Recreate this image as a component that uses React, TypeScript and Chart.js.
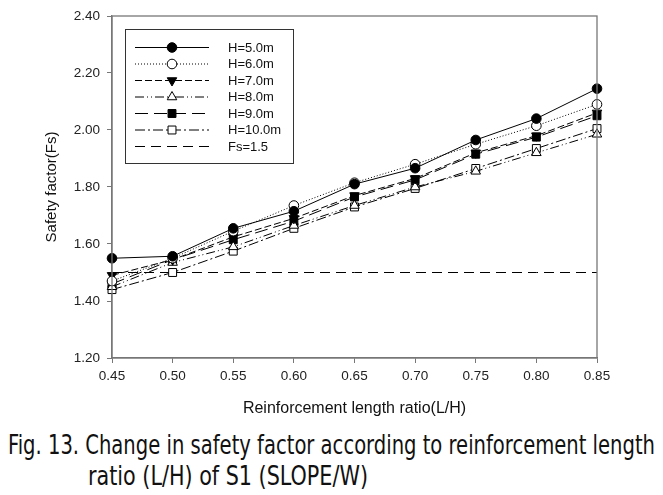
import React, { useEffect, useRef } from "react";
import { Chart, registerables } from "chart.js";

Chart.register(...registerables);

const xLabels = ["0.45", "0.50", "0.55", "0.60", "0.65", "0.70", "0.75", "0.80", "0.85"];
const h50 = [1.55, 1.557, 1.655, 1.715, 1.81, 1.866, 1.965, 2.04, 2.145];
const h60 = [1.47, 1.55, 1.645, 1.735, 1.815, 1.88, 1.95, 2.015, 2.09];
const h70 = [1.49, 1.545, 1.625, 1.69, 1.77, 1.83, 1.92, 1.98, 2.06];
const h80 = [1.45, 1.535, 1.59, 1.665, 1.735, 1.8, 1.855, 1.92, 1.985];
const h90 = [1.46, 1.545, 1.615, 1.68, 1.765, 1.825, 1.915, 1.975, 2.05];
const h100 = [1.44, 1.5, 1.575, 1.655, 1.73, 1.795, 1.865, 1.935, 2.005];
const fsLine = [1.5, 1.5, 1.5, 1.5, 1.5, 1.5, 1.5, 1.5, 1.5];
const seriesLabels = ["H=5.0m", "H=6.0m", "H=7.0m", "H=8.0m", "H=9.0m", "H=10.0m", "Fs=1.5"];
const yTicks = [1.2, 1.4, 1.6, 1.8, 2.0, 2.2, 2.4];
const xTitle = "Reinforcement length ratio(L/H)";
const yTitle = "Safety factor(Fs)";
const caption1 = "Fig. 13. Change in safety factor according to reinforcement length";
const caption2 = "ratio (L/H) of S1 (SLOPE/W)";

const FONT = "'Liberation Sans', Arial, Helvetica, sans-serif";
const CAPTION_FONT = "'Liberation Sans Narrow', 'DejaVu Sans Condensed', 'Liberation Sans', sans-serif";

function drawMarker(ctx: CanvasRenderingContext2D, style: string, rot: number, r: number, x: number, y: number, fill: string) {
  if (!style || r <= 0) return;
  ctx.save();
  ctx.setLineDash([]);
  ctx.lineWidth = 1;
  ctx.strokeStyle = "#000";
  ctx.fillStyle = fill;
  ctx.beginPath();
  if (style === "circle") {
    ctx.arc(x, y, r, 0, Math.PI * 2);
  } else if (style === "triangle") {
    let rad = (rot * Math.PI) / 180;
    ctx.moveTo(x + Math.sin(rad) * r, y - Math.cos(rad) * r);
    rad += (2 * Math.PI) / 3;
    ctx.lineTo(x + Math.sin(rad) * r, y - Math.cos(rad) * r);
    rad += (2 * Math.PI) / 3;
    ctx.lineTo(x + Math.sin(rad) * r, y - Math.cos(rad) * r);
    ctx.closePath();
  } else if (style === "rect") {
    const s = Math.SQRT1_2 * r;
    ctx.rect(x - s, y - s, 2 * s, 2 * s);
  }
  ctx.fill();
  ctx.stroke();
  ctx.restore();
}

const legendPlugin = {
  id: "boxLegend",
  afterDraw(chart: any) {
    const ctx = chart.ctx as CanvasRenderingContext2D;
    ctx.save();
    ctx.strokeStyle = "#333";
    ctx.lineWidth = 1;
    ctx.setLineDash([]);
    ctx.strokeRect(125.5, 29.5, 168, 134);
    ctx.font = `13px ${FONT}`;
    ctx.textBaseline = "middle";
    ctx.textAlign = "left";
    chart.data.datasets.forEach((ds: any, i: number) => {
      const y = 47.5 + i * 16.5;
      ctx.save();
      ctx.strokeStyle = "#000";
      ctx.lineWidth = 1;
      ctx.setLineDash(ds.borderDash || []);
      ctx.beginPath();
      ctx.moveTo(135, y);
      ctx.lineTo(209, y);
      ctx.stroke();
      ctx.restore();
      drawMarker(ctx, ds.pointRadius > 0 ? ds.pointStyle : "", ds.pointRotation || 0, ds.pointRadius, 172, y, ds.pointBackgroundColor);
      ctx.fillStyle = "#111";
      ctx.fillText(ds.label, 228, y + 0.5);
    });
    ctx.restore();
  },
};

const framePlugin = {
  id: "frame",
  afterDraw(chart: any) {
    const { left, right, top, bottom } = chart.chartArea;
    const ctx = chart.ctx as CanvasRenderingContext2D;
    ctx.save();
    ctx.strokeStyle = "#777";
    ctx.lineWidth = 1.3;
    ctx.setLineDash([]);
    ctx.strokeRect(left, top, right - left, bottom - top);
    ctx.restore();
  },
};

export default function App() {
  const ref = useRef<HTMLCanvasElement>(null);

  useEffect(() => {
    if (!ref.current) return;
    const mk = (label: string, data: number[], dash: number[], style: string, rot: number, r: number, fill: string) => ({
      label,
      data,
      borderColor: "#000",
      borderWidth: 1,
      borderDash: dash,
      pointStyle: style,
      pointRotation: rot,
      pointRadius: r,
      pointBorderWidth: 1,
      pointBorderColor: "#000",
      pointBackgroundColor: fill,
      fill: false,
      tension: 0,
      clip: false as any,
    });
    const chart = new Chart(ref.current, {
      type: "line",
      data: {
        labels: xLabels,
        datasets: [
          mk(seriesLabels[0], h50, [], "circle", 0, 4.8, "#000"),
          mk(seriesLabels[1], h60, [1, 2], "circle", 0, 4.8, "#fff"),
          mk(seriesLabels[2], h70, [7, 3], "triangle", 180, 5.5, "#000"),
          mk(seriesLabels[3], h80, [9, 3, 1, 3, 1, 3], "triangle", 0, 5.5, "#fff"),
          mk(seriesLabels[4], h90, [13, 6], "rect", 0, 5.6, "#000"),
          mk(seriesLabels[5], h100, [10, 3, 2, 3], "rect", 0, 5.6, "#fff"),
          mk(seriesLabels[6], fsLine, [10, 6], "circle", 0, 0, "#fff"),
        ],
      },
      options: {
        responsive: false,
        animation: false,
        events: [],
        layout: { padding: { left: 0, right: 66, top: 16, bottom: 0 } },
        plugins: { legend: { display: false }, tooltip: { enabled: false }, title: { display: false } },
        scales: {
          x: {
            type: "category",
            offset: false,
            grid: { display: true, drawOnChartArea: false, drawTicks: true, tickLength: 5, color: "#777", tickColor: "#777" },
            border: { display: true, color: "#777", width: 1.3 },
            ticks: { color: "#222", font: { family: FONT, size: 13.5 }, padding: 5, autoSkip: false, maxRotation: 0 },
            title: { display: true, text: xTitle, color: "#111", font: { family: FONT, size: 16 }, padding: { top: 0, bottom: 2 } },
            afterFit: (s: any) => { s.height = 62; },
          },
          y: {
            type: "linear",
            min: 1.2,
            max: 2.4,
            afterBuildTicks: (s: any) => { s.ticks = yTicks.map((v) => ({ value: v })); },
            grid: { display: true, drawOnChartArea: false, drawTicks: true, tickLength: 5, color: "#777", tickColor: "#777" },
            border: { display: true, color: "#777", width: 1.3 },
            ticks: { color: "#222", font: { family: FONT, size: 13.5 }, padding: 7, callback: (v: any) => Number(v).toFixed(2) },
            title: { display: true, text: yTitle, color: "#111", font: { family: FONT, size: 15 }, padding: { top: 43, bottom: 0 } },
            afterFit: (s: any) => { s.width = 112; },
          },
        },
      },
      plugins: [framePlugin, legendPlugin],
    } as any);
    return () => chart.destroy();
  }, []);

  return (
    <div style={{ position: "absolute", left: 0, top: 0, width: 663, height: 495, background: "#fff", overflow: "hidden" }}>
      <canvas ref={ref} width={663} height={420} style={{ position: "absolute", left: 0, top: 0, width: 663, height: 420 }} />
      <svg width={663} height={75} style={{ position: "absolute", left: 0, top: 420 }}>
        <text x={8} y={34} fontSize={26} fill="#111" textLength={647} lengthAdjust="spacingAndGlyphs"
          style={{ fontFamily: CAPTION_FONT }}>
          {caption1}
        </text>
        <text x={88} y={65} fontSize={26} fill="#111" textLength={280} lengthAdjust="spacingAndGlyphs"
          style={{ fontFamily: CAPTION_FONT }}>
          {caption2}
        </text>
      </svg>
    </div>
  );
}
